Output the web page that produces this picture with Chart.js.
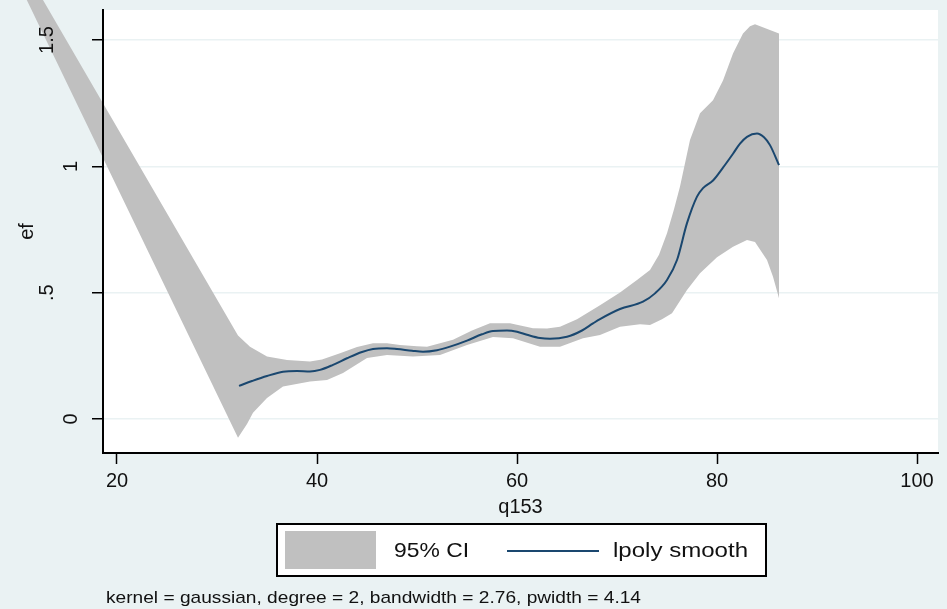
<!DOCTYPE html>
<html>
<head>
<meta charset="utf-8">
<title>lpoly ef q153</title>
<script src="https://cdn.jsdelivr.net/npm/chart.js@4.4.1/dist/chart.umd.min.js"></script>
<style>
  html, body { margin: 0; padding: 0; background: #eaf2f3; }
  canvas { display: block; }
</style>
</head>
<body>
<canvas id="grafico" width="947" height="609"></canvas>
<script>
// ejes
const xTickValues = [20, 40, 60, 80, 100];
const yTickValues = [0, 0.5, 1, 1.5];
const yTickLabels = ['0', '.5', '1', '1.5'];

// lpoly smooth (q153 -> ef)
const smoothX = [32.2, 33.5, 35.0, 36.6, 38.0, 39.3, 40.3, 41.6, 43.0, 44.5, 45.6, 47.0, 48.0, 49.5,
    50.6, 52.0, 53.3, 55.0, 56.5, 57.6, 59.0, 60.0, 61.0, 62.3, 63.3, 65.0, 66.5, 67.6, 68.3, 70.3,
    72.6, 73.8, 75.0, 76.0, 77.0, 78.0, 78.6, 79.6, 80.6, 81.6, 82.3, 83.0, 84.0, 84.7, 85.3, 86.2];
const smoothY = [0.131, 0.150, 0.170, 0.187, 0.190, 0.188, 0.194, 0.214, 0.240, 0.265, 0.277, 0.280, 0.277, 0.270,
    0.266, 0.272, 0.286, 0.310, 0.335, 0.348, 0.350, 0.345, 0.333, 0.320, 0.317, 0.325, 0.350, 0.378, 0.395, 0.435,
    0.464, 0.497, 0.550, 0.629, 0.775, 0.880, 0.914, 0.944, 0.995, 1.050, 1.090, 1.117, 1.130, 1.115, 1.084, 1.005];

// banda 95% CI, borde superior e inferior
const ciUpperX = [8.0, 32.1, 33.3, 35.0, 37.0, 39.3, 40.5, 42.3, 44.0, 45.6, 47.0, 48.3, 50.0, 51.0, 53.6,
    55.5, 57.3, 59.3, 61.6, 63.0, 64.3, 66.0, 68.3, 70.3, 72.0, 73.3, 74.2, 75.0, 75.7, 76.3, 77.3, 78.3,
    79.6, 80.6, 81.6, 82.6, 83.3, 83.8, 86.2];
const ciUpper = [1.972, 0.330, 0.286, 0.247, 0.233, 0.227, 0.235, 0.260, 0.285, 0.300, 0.300, 0.293, 0.288, 0.286, 0.313,
    0.350, 0.379, 0.379, 0.359, 0.358, 0.365, 0.395, 0.450, 0.500, 0.550, 0.590, 0.650, 0.735, 0.830, 0.920, 1.104, 1.210,
    1.262, 1.340, 1.447, 1.526, 1.555, 1.563, 1.526];
const ciLowerX = [8.0, 32.1, 33.0, 33.6, 35.0, 36.6, 39.3, 41.0, 42.6, 45.0, 47.0, 49.6, 52.3, 55.0, 57.6,
    59.6, 62.3, 64.3, 66.6, 68.3, 70.3, 72.3, 73.3, 74.5, 75.5, 77.0, 78.3, 80.0, 81.6, 83.0, 83.8,
    85.0, 85.6, 86.2];
const ciLower = [1.903, -0.075, -0.020, 0.024, 0.083, 0.128, 0.148, 0.154, 0.182, 0.241, 0.253, 0.247, 0.253, 0.293, 0.324,
    0.319, 0.286, 0.286, 0.319, 0.332, 0.365, 0.375, 0.372, 0.395, 0.418, 0.510, 0.577, 0.640, 0.682, 0.708, 0.700,
    0.629, 0.563, 0.478];

const nota = 'kernel = gaussian, degree = 2, bandwidth = 2.76, pwidth = 4.14';

const colorFondo = '#eaf2f3';
const colorBanda = '#c0c0c0';
const colorLinea = '#1a476f';
const colorTexto = '#111111';
const fuente = 'Liberation Sans, Arial, sans-serif';

// fondo gris azulado y región del gráfico en blanco
const fondoPlugin = {
    id: 'fondo',
    beforeDraw(chart) {
        const {ctx, chartArea: a} = chart;
        ctx.save();
        ctx.fillStyle = colorFondo;
        ctx.fillRect(0, 0, chart.width, chart.height);
        ctx.fillStyle = '#ffffff';
        ctx.fillRect(a.left, a.top, a.right - a.left, a.bottom - a.top);
        ctx.restore();
    }
};

// la banda CI se dibuja sin recortar, como en Stata se sale por la izquierda
const bandaPlugin = {
    id: 'banda',
    beforeDatasetsDraw(chart) {
        const {ctx, scales: {x, y}} = chart;
        ctx.save();
        ctx.beginPath();
        ciUpperX.forEach((v, i) => {
            const px = x.getPixelForValue(v), py = y.getPixelForValue(ciUpper[i]);
            if (i === 0) ctx.moveTo(px, py); else ctx.lineTo(px, py);
        });
        for (let i = ciLowerX.length - 1; i >= 0; i--) {
            ctx.lineTo(x.getPixelForValue(ciLowerX[i]), y.getPixelForValue(ciLower[i]));
        }
        ctx.closePath();
        ctx.fillStyle = colorBanda;
        ctx.fill();
        ctx.restore();
    }
};

// texto estirado a lo ancho, el de Stata sale más ancho que Arial
function textoAncho(ctx, txt, x, y, ancho) {
    const w = ctx.measureText(txt).width;
    ctx.save();
    ctx.translate(x, y);
    ctx.scale(ancho / w, 1);
    ctx.fillText(txt, 0, 0);
    ctx.restore();
}

// leyenda con recuadro y nota del kernel debajo
const leyendaPlugin = {
    id: 'leyenda',
    afterDraw(chart) {
        const ctx = chart.ctx;
        ctx.save();
        ctx.fillStyle = '#ffffff';
        ctx.fillRect(277, 524, 489, 52);
        ctx.strokeStyle = '#000000';
        ctx.lineWidth = 2;
        ctx.strokeRect(277, 524, 489, 52);

        ctx.fillStyle = colorBanda;
        ctx.fillRect(285, 531, 91, 38);

        ctx.strokeStyle = colorLinea;
        ctx.lineWidth = 2;
        ctx.beginPath();
        ctx.moveTo(507, 551);
        ctx.lineTo(599, 551);
        ctx.stroke();

        ctx.fillStyle = colorTexto;
        ctx.textBaseline = 'middle';
        ctx.font = '21px ' + fuente;
        textoAncho(ctx, '95% CI', 394, 551, 75);
        textoAncho(ctx, 'lpoly smooth', 613, 551, 135);

        ctx.font = '17px ' + fuente;
        textoAncho(ctx, nota, 106, 598, 535);
        ctx.restore();
    }
};

const fuenteEje = {family: fuente, size: 20};

new Chart(document.getElementById('grafico'), {
    type: 'line',
    data: {
        datasets: [{
            label: 'lpoly smooth',
            data: smoothX.map((v, i) => ({x: v, y: smoothY[i]})),
            borderColor: colorLinea,
            borderWidth: 2,
            pointRadius: 0,
            fill: false,
            cubicInterpolationMode: 'monotone'
        }]
    },
    options: {
        responsive: false,
        animation: false,
        layout: {padding: {top: 10, right: 9, left: 0, bottom: 0}},
        plugins: {
            legend: {display: false},
            tooltip: {enabled: false}
        },
        scales: {
            x: {
                type: 'linear',
                min: 18.6,
                max: 102.1,
                afterBuildTicks: s => { s.ticks = xTickValues.map(v => ({value: v})); },
                afterFit: s => { s.height = 156; s.paddingLeft = 0; s.paddingRight = 0; },
                border: {color: '#000000', width: 2, z: 1},
                grid: {drawOnChartArea: false, tickLength: 11, tickColor: '#000000', tickWidth: 1.5},
                ticks: {z: 1, padding: 5, maxRotation: 0, font: fuenteEje, color: colorTexto},
                title: {display: true, text: 'q153', font: fuenteEje, color: colorTexto, padding: {top: 0, bottom: 90}}
            },
            y: {
                type: 'linear',
                min: -0.135,
                max: 1.619,
                afterBuildTicks: s => { s.ticks = yTickValues.map(v => ({value: v})); },
                afterFit: s => { s.width = 103; s.paddingTop = 0; s.paddingBottom = 0; },
                border: {color: '#000000', width: 2, z: 1},
                grid: {color: colorFondo, lineWidth: 1.5, tickLength: 11, tickColor: '#000000', tickWidth: 1.5},
                ticks: {
                    z: 1,
                    minRotation: 90,
                    maxRotation: 90,
                    crossAlign: 'center',
                    padding: 7,
                    font: fuenteEje,
                    color: colorTexto,
                    // las etiquetas con decimales quedan más separadas del eje
                    callback: v => {
                        const lab = yTickLabels[yTickValues.indexOf(v)];
                        return lab.includes('.') ? [lab, '', ''] : lab;
                    }
                },
                title: {display: true, text: 'ef', font: fuenteEje, color: colorTexto, padding: {top: 15, bottom: 0}}
            }
        }
    },
    plugins: [fondoPlugin, bandaPlugin, leyendaPlugin]
});
</script>
</body>
</html>
